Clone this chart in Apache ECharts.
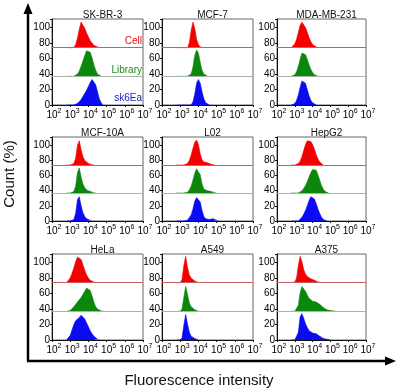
<!DOCTYPE html>
<html>
<head>
<meta charset="utf-8">
<script src="https://cdn.jsdelivr.net/npm/echarts@6/dist/echarts.min.js"></script>
<style>
html, body { margin: 0; padding: 0; background: #fff; }
#chart { width: 398px; height: 391px; }
</style>
</head>
<body>
<div id="chart"></div>
<script>
// cell lines, one panel each
const panelNames = ['SK-BR-3', 'MCF-7', 'MDA-MB-231', 'MCF-10A', 'L02', 'HepG2', 'HeLa', 'A549', 'A375'];
const legendNames = ['Cell', 'Library', 'sk6Ea'];
// log10 of fluorescence intensity, shared by every histogram
const xExponents = [2.8, 2.9, 3.0, 3.1, 3.2, 3.3, 3.4, 3.5, 3.6, 3.7, 3.8, 3.9, 4.0,
    4.1, 4.2, 4.3, 4.4, 4.5, 4.6, 4.7, 4.8, 4.9, 5.0, 5.1, 5.2, 5.3];
const xTicks = [2, 3, 4, 5, 6, 7];
const yTicks = [0, 20, 40, 60, 80, 100];
// offsets of the three stacked histograms on the count axis
const bandBase = [74, 37, 0];

// counts, starting at 10^2.8
const skbr3Cell = [0, 0, 0, 0, 0, 4, 12, 24, 33, 31, 25, 19, 14, 9, 6, 3, 2, 1, 0];
const skbr3Library = [0, 0, 0, 0, 0, 1, 3, 7, 13, 20, 27, 33, 35, 31, 24, 15, 8, 3, 1, 0];
const skbr3Sk6Ea = [0, 0, 0, 0, 0, 1, 2, 4, 7, 11, 15, 19, 24, 29, 33, 32, 26, 17, 8, 3, 0];

const mcf7Cell = [0, 0, 0, 0, 0, 0, 0, 6, 22, 33, 25, 11, 4, 1, 0];
const mcf7Library = [0, 0, 0, 0, 0, 0, 0, 0, 3, 12, 27, 34, 30, 18, 8, 3, 1, 0];
const mcf7Sk6Ea = [0, 0, 0, 0, 0, 0, 0, 0, 0, 4, 14, 28, 33, 28, 17, 8, 3, 1, 0];

const mdaCell = [0, 2, 5, 11, 20, 29, 33, 31, 26, 20, 13, 8, 4, 2, 1, 0];
const mdaLibrary = [0, 0, 2, 6, 13, 22, 30, 32, 28, 22, 15, 9, 5, 2, 1, 0];
const mdaSk6Ea = [0, 0, 2, 6, 13, 23, 31, 33, 28, 20, 12, 6, 3, 1, 0];

const mcf10aCell = [0, 0, 0, 0, 2, 9, 26, 32, 20, 11, 6, 4, 2, 1, 0.5, 0];
const mcf10aLibrary = [0, 0, 0, 0, 2, 9, 27, 33, 21, 12, 7, 4, 3, 2, 1, 0.5, 0];
const mcf10aSk6Ea = [0, 0, 0, 0, 2, 10, 28, 32, 20, 11, 6, 3, 2, 1, 0];

const l02Cell = [0, 0, 0, 0, 0, 0, 2, 6, 13, 22, 30, 33, 27, 15, 7, 4, 3, 3, 2, 1, 0.5, 0];
const l02Library = [0, 0, 0, 0, 0, 0, 1, 4, 9, 17, 26, 32, 33, 24, 12, 5, 3, 3, 3, 2, 1, 0.5, 0];
const l02Sk6Ea = [0, 0, 0, 0, 0, 0, 1, 3, 8, 16, 26, 31, 32, 25, 14, 6, 3, 2, 2, 3, 3, 2, 1, 0];

const hepg2Cell = [0, 0, 0, 0, 2, 5, 11, 19, 27, 32, 33, 31, 27, 21, 14, 8, 4, 2, 0];
const hepg2Library = [0, 0, 0, 0, 0, 1, 3, 6, 10, 15, 21, 27, 31, 33, 30, 24, 17, 10, 5, 2, 1, 0];
const hepg2Sk6Ea = [0, 0, 0, 0, 0, 2, 5, 9, 14, 20, 27, 32, 33, 29, 23, 16, 10, 5, 2, 1, 0];

const helaCell = [0, 2, 6, 12, 19, 27, 33, 34, 30, 23, 16, 10, 6, 3, 2, 1, 0];
const helaLibrary = [0, 0, 1, 3, 6, 9, 12, 15, 18, 22, 26, 30, 31, 27, 20, 12, 6, 3, 1, 0.5, 0];
const helaSk6Ea = [0, 2, 6, 13, 20, 25, 27, 29, 32, 31, 27, 22, 17, 12, 8, 5, 3, 1, 0];

const a549Cell = [0, 0, 0, 4, 22, 34, 20, 10, 6, 4, 2, 1, 0];
const a549Library = [0, 0, 0, 3, 18, 32, 22, 11, 6, 4, 2, 1, 0];
const a549Sk6Ea = [0, 0, 0, 3, 19, 33, 21, 10, 5, 3, 2, 1, 0];

const a375Cell = [0, 0, 1, 6, 22, 34, 27, 17, 11, 8, 6, 5, 4, 3, 2, 1, 0.5, 0];
const a375Library = [0, 0, 0, 0, 8, 24, 32, 33, 26, 21, 17, 15, 13, 12, 12, 11, 9, 7, 5, 3, 2, 1, 1, 0.5, 0.5, 0];
const a375Sk6Ea = [0, 0, 0, 0, 10, 30, 34, 28, 21, 16, 12, 10, 9, 9, 8, 7, 5, 3, 2, 1, 1, 0.5, 0];

const panelCounts = [
    [skbr3Cell, skbr3Library, skbr3Sk6Ea],
    [mcf7Cell, mcf7Library, mcf7Sk6Ea],
    [mdaCell, mdaLibrary, mdaSk6Ea],
    [mcf10aCell, mcf10aLibrary, mcf10aSk6Ea],
    [l02Cell, l02Library, l02Sk6Ea],
    [hepg2Cell, hepg2Library, hepg2Sk6Ea],
    [helaCell, helaLibrary, helaSk6Ea],
    [a549Cell, a549Library, a549Sk6Ea],
    [a375Cell, a375Library, a375Sk6Ea]
];

const fillColors = ['#f50000', '#0b870b', '#0a0af5'];
const textColors = ['#e01010', '#1a8a1a', '#2020c8'];
const baseLineColors = ['#c86060', '#a8b4a8'];

// layout of the 3x3 grid
const colLeft = [52, 162, 277];
const colWidth = [91, 91, 89];
const rowTop = [19, 137, 254];
const rowHeight = [86, 84, 86];

const chart = echarts.init(document.getElementById('chart'));

let grids = [], xAxes = [], yAxes = [], series = [], titles = [];
panelNames.forEach((name, p) => {
    const r = Math.floor(p / 3), c = p % 3;
    grids.push({
        left: colLeft[c], top: rowTop[r], width: colWidth[c], height: rowHeight[r],
        show: true, borderColor: '#666', borderWidth: 1, backgroundColor: 'transparent'
    });
    xAxes.push({
        type: 'value', gridIndex: p, min: xTicks[0], max: xTicks[xTicks.length - 1], interval: 1,
        axisLine: { lineStyle: { color: '#111', width: 1 } },
        axisTick: { show: true, length: 2, lineStyle: { color: '#111' } },
        splitLine: { show: false },
        axisLabel: {
            margin: 3,
            formatter: v => '{p|}{b|10}{s|' + v + '}',
            rich: {
                p: { width: 4 },
                b: { fontSize: 10, fontFamily: 'Liberation Sans', color: '#000', verticalAlign: 'bottom', lineHeight: 12 },
                s: { fontSize: 7, fontFamily: 'Liberation Sans', color: '#000', verticalAlign: 'top', lineHeight: 12 }
            }
        }
    });
    yAxes.push({
        type: 'value', gridIndex: p, min: 0, max: 111, interval: 20,
        axisLine: { show: true, lineStyle: { color: '#111', width: 1 } },
        axisTick: { show: true, length: 2, lineStyle: { color: '#111' } },
        splitLine: { show: false },
        axisLabel: {
            margin: 2, fontSize: 10, fontFamily: 'Liberation Sans', color: '#000',
            formatter: v => (yTicks.indexOf(v) >= 0 ? String(v) : '')
        }
    });
    titles.push({
        text: name, left: colLeft[c] + colWidth[c] / 2, top: rowTop[r] - 14, textAlign: 'center',
        textStyle: { fontSize: 10, fontWeight: 'normal', fontFamily: 'Liberation Sans', color: '#111' }
    });
    panelCounts[p].forEach((counts, b) => {
        const base = bandBase[b];
        const s = {
            type: 'line', xAxisIndex: p, yAxisIndex: p, name: legendNames[b],
            data: counts.map((v, i) => [xExponents[i], base + v]),
            symbol: 'none', silent: true,
            lineStyle: { color: fillColors[b], width: 0.6 },
            areaStyle: { color: fillColors[b], opacity: 1, origin: base }
        };
        if (b < 2) {
            s.markLine = {
                silent: true, symbol: 'none', label: { show: false },
                lineStyle: { color: baseLineColors[b], width: 1, type: 'solid' },
                data: [{ yAxis: base }]
            };
        }
        series.push(s);
    });
});

const legendTexts = legendNames.map((t, b) => ({
    type: 'text', right: 398 - 142, top: [36, 65, 93][b],
    style: { text: t, fill: textColors[b], font: '10px "Liberation Sans"', textAlign: 'right' }
}));

const arrows = [
    { type: 'line', shape: { x1: 28, y1: 361, x2: 28, y2: 12 }, style: { stroke: '#000', lineWidth: 2.5 } },
    { type: 'polygon', shape: { points: [[23.5, 14], [28, 3], [32.5, 14]] }, style: { fill: '#000' } },
    { type: 'line', shape: { x1: 27, y1: 361, x2: 386, y2: 361 }, style: { stroke: '#000', lineWidth: 2.5 } },
    { type: 'polygon', shape: { points: [[385, 356.5], [396, 361], [385, 365.5]] }, style: { fill: '#000' } },
    {
        type: 'text', x: 10, y: 174, rotation: Math.PI / 2,
        style: { text: 'Count (%)', font: '15px "Liberation Sans"', fill: '#111', textAlign: 'center', textVerticalAlign: 'middle' }
    },
    {
        type: 'text', x: 199, y: 381,
        style: { text: 'Fluorescence intensity', font: '15px "Liberation Sans"', fill: '#111', textAlign: 'center', textVerticalAlign: 'middle' }
    }
];

chart.setOption({
    animation: false,
    backgroundColor: '#fff',
    title: titles,
    grid: grids,
    xAxis: xAxes,
    yAxis: yAxes,
    series: series,
    graphic: legendTexts.concat(arrows)
});
</script>
</body>
</html>
